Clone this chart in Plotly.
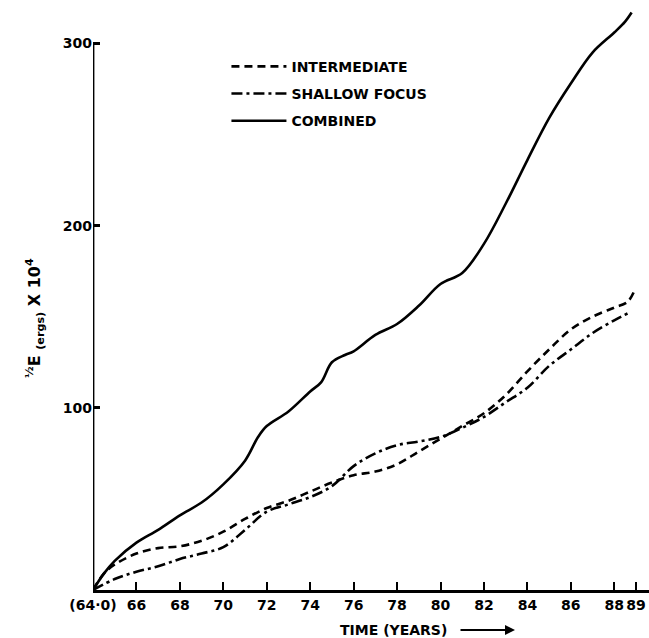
import plotly.graph_objects as go

years_comb = [64, 64.5, 65, 66, 67, 68, 69, 70, 71, 71.6, 72, 73, 74, 74.5, 75, 75.6, 76, 77, 78, 79, 80, 81, 82, 83, 84, 85, 86, 87, 88, 88.5, 88.8]
combined = [0, 9, 16, 26, 33, 41, 48, 58, 71, 84, 90, 98, 109, 114, 125, 129, 131, 140, 146, 156, 168, 174, 190, 212, 236, 259, 278, 295, 306, 312, 317]

years_int = [64, 64.5, 65, 66, 67, 68, 69, 70, 71, 72, 73, 74, 75, 76, 77, 78, 79, 80, 81, 82, 83, 84, 85, 86, 87, 88, 88.6, 88.9]
intermediate = [0, 9, 14, 20, 23, 24, 27, 32, 39, 45, 49, 54, 59, 63, 65, 69, 76, 83, 90, 97, 107, 120, 132, 143, 150, 155, 158, 163.5]

years_sh = [64, 65, 66, 67, 68, 69, 70, 71, 72, 73, 74, 75, 76, 77, 78, 79, 80, 81, 82, 83, 84, 85, 86, 87, 88, 88.65]
shallow = [0, 6, 10, 13, 17, 20, 23.5, 33, 43, 47, 51, 57, 68, 75, 79.5, 81.5, 84, 89, 95, 103, 111, 123, 132, 141, 148, 152]

x_tickvals = [64, 66, 68, 70, 72, 74, 76, 78, 80, 82, 84, 86, 88, 89]
x_ticktext = ["(64·0)", "66", "68", "70", "72", "74", "76", "78", "80", "82", "84", "86", "88", "89"]
y_tickvals = [100, 200, 300]
y_ticktext = ["100", "200", "300"]

FONT = "DejaVu Sans"

fig = go.Figure()
fig.add_trace(go.Scatter(x=years_int, y=intermediate, mode="lines", name="INTERMEDIATE",
                         legendgroup="a",
                         line=dict(color="black", width=2.6, dash="8px,5px", shape="spline", smoothing=1)))
fig.add_trace(go.Scatter(x=years_sh, y=shallow, mode="lines", name="SHALLOW FOCUS",
                         legendgroup="b",
                         line=dict(color="black", width=2.6, dash="11px,4px,3px,4px", shape="spline", smoothing=1)))
fig.add_trace(go.Scatter(x=years_comb, y=combined, mode="lines", name="COMBINED",
                         legendgroup="c",
                         line=dict(color="black", width=2.6, shape="spline", smoothing=1)))

# y axis line, ending at 300
fig.add_shape(type="line", xref="x", yref="y", x0=64, x1=64, y0=0, y1=300,
              line=dict(color="black", width=2.8))

fig.update_xaxes(range=[64, 89.6], showline=True, linecolor="black", linewidth=2.8,
                 ticks="inside", ticklen=8, tickwidth=2, tickcolor="black",
                 tickvals=x_tickvals, ticktext=x_ticktext, showgrid=False, zeroline=False,
                 automargin=False,
                 tickfont=dict(family=FONT, size=14, color="black", weight="bold"))
fig.update_yaxes(range=[0, 320], showline=False,
                 ticks="inside", ticklen=7, tickwidth=2.5, tickcolor="black",
                 tickvals=y_tickvals, ticktext=y_ticktext, showgrid=False, zeroline=False,
                 automargin=False,
                 tickfont=dict(family=FONT, size=14, color="black", weight="bold"))

fig.add_annotation(xref="paper", yref="paper", x=0.541, y=-0.0686, xanchor="center", yanchor="middle",
                   text="TIME (YEARS)", showarrow=False,
                   font=dict(family=FONT, size=14, color="black", weight="bold"))
fig.add_annotation(xref="paper", yref="paper", x=0.759, y=-0.0686, text="", showarrow=True,
                   ax=-56, ay=0, arrowhead=2, arrowsize=1, arrowwidth=2, arrowcolor="black")
fig.add_annotation(xref="paper", yref="paper", x=-0.104, y=0.467, xanchor="center", yanchor="middle",
                   textangle=-90,
                   text="<sup>½</sup>E&nbsp;<sub>(ergs)</sub>&nbsp;X&nbsp;10<sup>4</sup>", showarrow=False,
                   font=dict(family=FONT, size=16, color="black", weight="bold"))

fig.update_layout(
    width=649, height=638,
    margin=dict(l=93, r=0, t=7, b=48),
    plot_bgcolor="white", paper_bgcolor="white",
    showlegend=True,
    legend=dict(x=0.240, y=0.925, xanchor="left", yanchor="top", bgcolor="rgba(0,0,0,0)",
                tracegroupgap=6, itemwidth=55,
                font=dict(family=FONT, size=14, color="black", weight="bold")),
)

fig.write_html("out.html", config={"displayModeBar": False},
               post_script="document.body.style.margin='0';")
